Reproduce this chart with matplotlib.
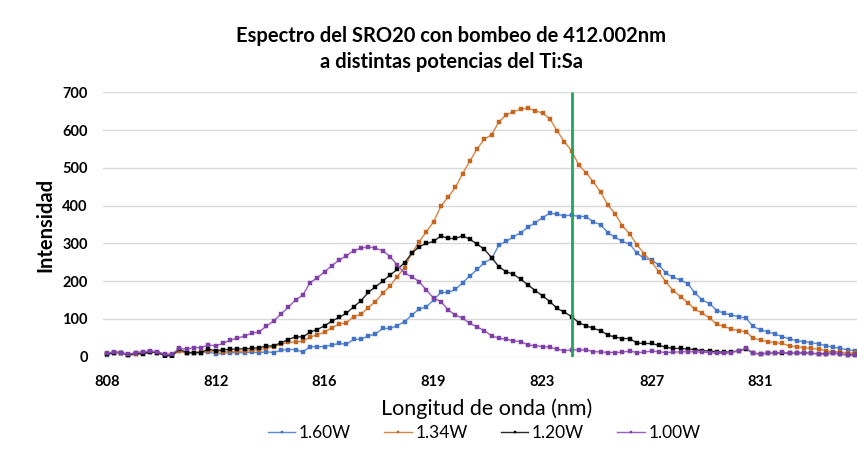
import numpy as np
import matplotlib
matplotlib.use("Agg")
import matplotlib.pyplot as plt

# ---------------- data ----------------
start_nm = 808.0
step_nm = 0.25
n_points = 104
wavelength = [start_nm + step_nm * i for i in range(n_points)]

tick_every = 15
tick_labels = ["808", "812", "816", "819", "823", "827", "831"]

series_names = ["1.60W", "1.34W", "1.20W", "1.00W"]

w160 = [4, 11, 11, 4, 7, 9, 13, 11, 3, 3, 16, 9, 9, 11, 13, 7, 9, 11, 10, 11,
        12, 11, 13, 11, 17, 19, 19, 12, 27, 26, 27, 31,
        35, 33, 46, 46, 55, 60, 75, 75, 82, 93, 110, 126, 132, 150, 170, 170, 178, 196,
        214, 231, 249, 260, 296, 305, 318, 328, 343, 355, 368, 380, 377, 373, 375, 371,
        371, 357, 349,
        328, 316, 305, 298, 274, 260, 256, 243, 221, 210, 203, 193, 168, 150, 140, 122,
        115, 110, 106, 102, 80, 71, 66, 60, 53, 47, 42, 40, 37, 34, 29, 25, 22, 18, 16]

w134 = [7, 11, 11, 5, 7, 9, 13, 11, 5, 5, 16, 9, 11, 13, 16, 13, 13, 14, 14, 15,
        17, 19, 22, 27, 33, 38, 39, 41, 52, 58, 65, 77,
        86, 90, 106, 112, 130, 146, 168, 187, 212, 236, 274, 304, 331, 357, 398, 423, 448, 485,
        518, 551, 576, 588, 622, 640, 649, 655, 658, 651, 645, 630, 598, 569, 545, 507,
        487, 463, 435,
        402, 378, 346, 325, 296, 272, 252, 225, 197, 175, 159, 143, 125, 115, 102, 86,
        80, 73, 69, 66, 49, 44, 40, 37, 35, 28, 27, 24, 22, 20, 16, 13, 13, 9, 11]

w120 = [7, 11, 11, 4, 9, 7, 13, 11, 3, 3, 20, 11, 11, 11, 20, 16, 18, 20, 20, 21,
        22, 24, 28, 29, 37, 45, 53, 52, 65, 72, 82, 94,
        104, 115, 132, 148, 170, 185, 200, 216, 231, 249, 274, 291, 300, 305, 320, 313, 313, 320,
        311, 298, 284, 262, 238, 225, 218, 205, 190, 175, 161, 146, 128, 118, 106, 90,
        82, 75, 69,
        57, 52, 48, 48, 36, 35, 35, 30, 25, 22, 22, 20, 19, 16, 15, 13, 12, 13, 15, 21,
        9, 8, 9, 9, 11, 9, 9, 10, 9, 8, 8, 10, 7, 5, 5]

w100 = [9, 13, 11, 7, 11, 13, 15, 13, 7, 7, 22, 20, 24, 24, 31, 29, 35, 44, 49, 55,
        62, 66, 81, 95, 113, 131, 150, 163, 196, 209, 225, 241,
        256, 267, 281, 287, 291, 287, 281, 265, 243, 221, 212, 199, 177, 155, 146, 124, 110, 102,
        88, 79, 69, 55, 49, 46, 42, 40, 31, 29, 27, 25, 20, 16, 18, 18,
        18, 13, 13,
        11, 11, 12, 15, 11, 12, 15, 13, 11, 12, 13, 13, 13, 12, 11, 9, 9, 11, 16, 22,
        9, 7, 9, 9, 12, 9, 9, 9, 9, 7, 7, 9, 7, 4, 4]

series_values = [w160, w134, w120, w100]

marker_line_nm = 824.03
y_ticks = [0, 100, 200, 300, 400, 500, 600, 700]

title_lines = ["Espectro del SRO20 con bombeo de 412.002nm",
               "a distintas potencias del Ti:Sa"]
x_label = "Longitud de onda (nm)"
y_label = "Intensidad"

# ---------------- style ----------------
line_colors = ["#5B8BD3", "#D98543", "#2A2A2A", "#9A5CBF"]
marker_colors = ["#4472C4", "#C5651F", "#000000", "#7F3FA6"]
green = "#22A55C"
grid_color = "#D9D9D9"
FONT = ["Lato", "DejaVu Sans"]

plt.rcParams["font.family"] = FONT

W, H = 857, 474
fig = plt.figure(figsize=(W / 100, H / 100), dpi=100)

left_px, right_px = 103.0, 858.6
top_px, bottom_px = 92.3, 356.7
ax = fig.add_axes([left_px / W, 1 - bottom_px / H,
                   (right_px - left_px) / W, (bottom_px - top_px) / H])

for vals, lc, mc, name in zip(series_values, line_colors, marker_colors, series_names):
    ax.plot(wavelength, vals, color=lc, lw=1.0, marker="s", markersize=2.2,
            markerfacecolor=mc, markeredgecolor=mc, markeredgewidth=0.3,
            label=name, zorder=3)

ax.vlines(marker_line_nm, 0, 700, color=green, lw=2.0, zorder=5)

half = step_nm / 2
ax.set_xlim(wavelength[0] - half, wavelength[-1] + half)
ax.set_ylim(0, 700)
ax.set_yticks(y_ticks)
ax.set_yticklabels([str(v) for v in y_ticks], fontsize=10.5, fontweight="bold")
ax.set_xticks(wavelength[::tick_every])
ax.set_xticklabels(tick_labels, fontsize=10.5, fontweight="bold")
ax.tick_params(axis="both", length=0, colors="#000000")
ax.tick_params(axis="x", pad=13)
ax.tick_params(axis="y", pad=11)
ax.grid(axis="y", color=grid_color, lw=1.0, zorder=0)
for s in ax.spines.values():
    s.set_visible(False)
ax.set_axisbelow(True)

fig.text(451 / W, 1 - 36 / H, title_lines[0], ha="center", va="center",
         fontsize=14.5, fontweight="bold")
fig.text(451 / W, 1 - 62 / H, title_lines[1], ha="center", va="center",
         fontsize=14.5, fontweight="bold")
fig.text(487 / W, 1 - 409 / H, x_label, ha="center", va="center", fontsize=15.5)
fig.text(45 / W, 1 - 225 / H, y_label, ha="center", va="center", rotation=90,
         fontsize=14.5, fontweight="bold")

handles, labels = ax.get_legend_handles_labels()
leg = fig.legend(handles, labels, loc="center", bbox_to_anchor=(484 / W, 1 - 433 / H),
                 ncol=4, frameon=False, fontsize=12.5, handlelength=1.6,
                 handletextpad=0.2, columnspacing=1.9, markerscale=0.8)

fig.savefig("out.png", dpi=100)
